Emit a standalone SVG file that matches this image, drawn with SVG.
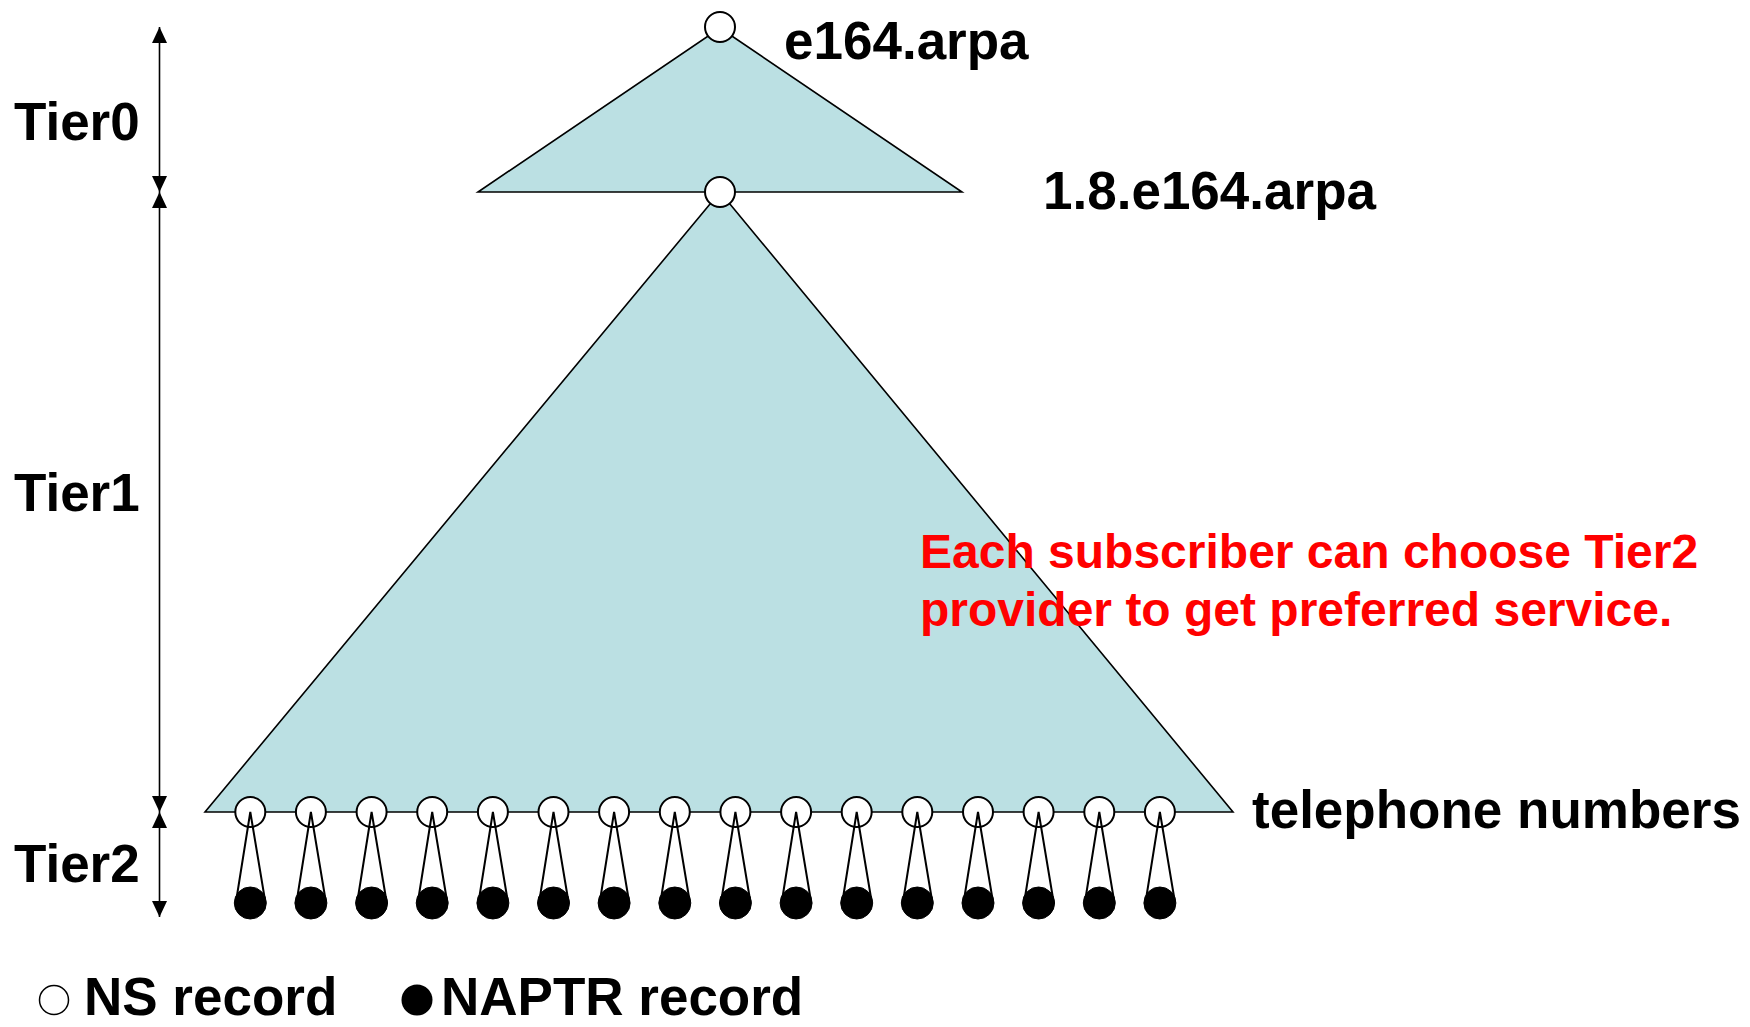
<svg xmlns="http://www.w3.org/2000/svg" width="1750" height="1027" viewBox="0 0 1750 1027">
<style>
.lbl{font-family:"Liberation Sans",Arial,sans-serif;font-weight:bold;font-size:53px;fill:#000}
.red{font-family:"Liberation Sans",Arial,sans-serif;font-weight:bold;font-size:48px;fill:#FF0000}
.zone{fill:#BBE0E3;stroke:#000;stroke-width:1.6;stroke-linejoin:miter}
.ns{fill:#fff;stroke:#000;stroke-width:2}
.naptr{fill:#000;stroke:#000;stroke-width:1}
.cone{fill:none;stroke:#000;stroke-width:2}
.dim{stroke:#000;stroke-width:1.6;fill:none}
</style>
<defs>
<marker id="ah" viewBox="0 0 16 15" refX="16" refY="7.5" markerWidth="16" markerHeight="15" markerUnits="userSpaceOnUse" orient="auto-start-reverse">
<path d="M0,0 L16,7.5 L0,15 Z" fill="#000"/>
</marker>
</defs>
<rect width="1750" height="1027" fill="#fff"/>
<g id="zones">
<polygon class="zone" points="720,28 962,192 478,192"/>
<polygon class="zone" points="720,192 1233,812 205,812"/>
</g>
<g id="connectors">
<line class="dim" x1="159.5" y1="27" x2="159.5" y2="192" marker-start="url(#ah)" marker-end="url(#ah)"/>
<line class="dim" x1="159.5" y1="192" x2="159.5" y2="812" marker-start="url(#ah)" marker-end="url(#ah)"/>
<line class="dim" x1="159.5" y1="812" x2="159.5" y2="917" marker-start="url(#ah)" marker-end="url(#ah)"/>
</g>
<g id="tier-labels">
<text class="lbl" x="14" y="140">Tier0</text>
<text class="lbl" x="14" y="511">Tier1</text>
<text class="lbl" x="14" y="882">Tier2</text>
</g>
<g id="node-e164">
<circle class="ns" cx="720" cy="27" r="15"/>
<text class="lbl" x="784" y="58.5">e164.arpa</text>
</g>
<g id="node-1-8-e164">
<circle class="ns" cx="720" cy="192" r="15"/>
<text class="lbl" x="1043" y="209">1.8.e164.arpa</text>
</g>
<g id="node-telephone-numbers">
<text class="lbl" x="1252" y="828">telephone numbers</text>
</g>
<g id="leaves">
<g id="leaf-1"><circle class="naptr" cx="250.3" cy="903" r="16"/><circle class="ns" cx="250.3" cy="812" r="15"/><polyline class="cone" points="235.8,903 250.3,812 265.3,902"/></g>
<g id="leaf-2"><circle class="naptr" cx="310.9" cy="903" r="16"/><circle class="ns" cx="310.9" cy="812" r="15"/><polyline class="cone" points="296.4,903 310.9,812 325.9,902"/></g>
<g id="leaf-3"><circle class="naptr" cx="371.6" cy="903" r="16"/><circle class="ns" cx="371.6" cy="812" r="15"/><polyline class="cone" points="357.1,903 371.6,812 386.6,902"/></g>
<g id="leaf-4"><circle class="naptr" cx="432.2" cy="903" r="16"/><circle class="ns" cx="432.2" cy="812" r="15"/><polyline class="cone" points="417.7,903 432.2,812 447.2,902"/></g>
<g id="leaf-5"><circle class="naptr" cx="492.9" cy="903" r="16"/><circle class="ns" cx="492.9" cy="812" r="15"/><polyline class="cone" points="478.4,903 492.9,812 507.9,902"/></g>
<g id="leaf-6"><circle class="naptr" cx="553.5" cy="903" r="16"/><circle class="ns" cx="553.5" cy="812" r="15"/><polyline class="cone" points="539,903 553.5,812 568.5,902"/></g>
<g id="leaf-7"><circle class="naptr" cx="614.1" cy="903" r="16"/><circle class="ns" cx="614.1" cy="812" r="15"/><polyline class="cone" points="599.6,903 614.1,812 629.1,902"/></g>
<g id="leaf-8"><circle class="naptr" cx="674.8" cy="903" r="16"/><circle class="ns" cx="674.8" cy="812" r="15"/><polyline class="cone" points="660.3,903 674.8,812 689.8,902"/></g>
<g id="leaf-9"><circle class="naptr" cx="735.4" cy="903" r="16"/><circle class="ns" cx="735.4" cy="812" r="15"/><polyline class="cone" points="720.9,903 735.4,812 750.4,902"/></g>
<g id="leaf-10"><circle class="naptr" cx="796.1" cy="903" r="16"/><circle class="ns" cx="796.1" cy="812" r="15"/><polyline class="cone" points="781.6,903 796.1,812 811.1,902"/></g>
<g id="leaf-11"><circle class="naptr" cx="856.7" cy="903" r="16"/><circle class="ns" cx="856.7" cy="812" r="15"/><polyline class="cone" points="842.2,903 856.7,812 871.7,902"/></g>
<g id="leaf-12"><circle class="naptr" cx="917.3" cy="903" r="16"/><circle class="ns" cx="917.3" cy="812" r="15"/><polyline class="cone" points="902.8,903 917.3,812 932.3,902"/></g>
<g id="leaf-13"><circle class="naptr" cx="978" cy="903" r="16"/><circle class="ns" cx="978" cy="812" r="15"/><polyline class="cone" points="963.5,903 978,812 993,902"/></g>
<g id="leaf-14"><circle class="naptr" cx="1038.6" cy="903" r="16"/><circle class="ns" cx="1038.6" cy="812" r="15"/><polyline class="cone" points="1024.1,903 1038.6,812 1053.6,902"/></g>
<g id="leaf-15"><circle class="naptr" cx="1099.3" cy="903" r="16"/><circle class="ns" cx="1099.3" cy="812" r="15"/><polyline class="cone" points="1084.8,903 1099.3,812 1114.3,902"/></g>
<g id="leaf-16"><circle class="naptr" cx="1159.9" cy="903" r="16"/><circle class="ns" cx="1159.9" cy="812" r="15"/><polyline class="cone" points="1145.4,903 1159.9,812 1174.9,902"/></g>
</g>
<g id="note">
<text class="red" x="920" y="568">Each subscriber can choose Tier2</text>
<text class="red" x="920" y="626">provider to get preferred service.</text>
</g>
<g id="legend">
<circle cx="54" cy="1000" r="14.5" fill="#fff" stroke="#000" stroke-width="1.5"/>
<text class="lbl" x="84" y="1015">NS record</text>
<circle cx="417" cy="1000" r="15.5" fill="#000"/>
<text class="lbl" x="441" y="1015">NAPTR record</text>
</g>
</svg>
